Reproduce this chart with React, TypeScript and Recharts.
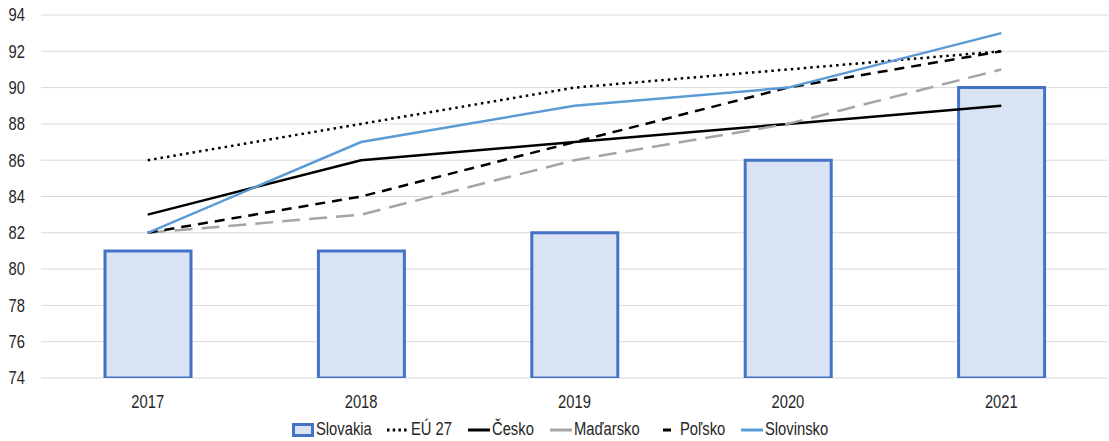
import React from 'react';
import { ComposedChart, Bar, Line, XAxis, YAxis, CartesianGrid, Legend } from 'recharts';

const years = ['2017', '2018', '2019', '2020', '2021'];
const slovakia = [81, 81, 82, 86, 90];
const eu27 = [86, 88, 90, 91, 92];
const cesko = [83, 86, 87, 88, 89];
const madarsko = [82, 83, 86, 88, 91];
const polsko = [82, 84, 87, 90, 92];
const slovinsko = [82, 87, 89, 90, 93];
const yTicks = [74, 76, 78, 80, 82, 84, 86, 88, 90, 92, 94];

const chartData = years.map((year, i) => ({
  year,
  slovakia: slovakia[i],
  eu27: eu27[i],
  cesko: cesko[i],
  madarsko: madarsko[i],
  polsko: polsko[i],
  slovinsko: slovinsko[i],
}));

// no narrow font installed, so squeeze Liberation Sans to look like Arial Narrow
const FONT = '"Liberation Sans", Arial, sans-serif';
const FONT_SIZE = 18;
const SQUEEZE = 0.82;
const TEXT = '#262626';

let canvas: HTMLCanvasElement | null = null;
const measure = (s: string) => {
  if (!canvas) canvas = document.createElement('canvas');
  const ctx = canvas.getContext('2d');
  if (!ctx) return s.length * FONT_SIZE * 0.5;
  ctx.font = `${FONT_SIZE}px ${FONT}`;
  return ctx.measureText(s).width;
};

const NarrowTick = (props: any) => {
  const { x, y, payload, textAnchor, dy } = props;
  return (
    <text
      transform={`translate(${x} ${y}) scale(${SQUEEZE} 1)`}
      x={0}
      y={0}
      dy={dy}
      textAnchor={textAnchor}
      fill={TEXT}
      fontSize={FONT_SIZE}
      fontFamily={FONT}
    >
      {payload.value}
    </text>
  );
};

const XTick = (props: any) => <NarrowTick {...props} textAnchor="middle" dy="0.71em" />;
const YTick = (props: any) => <NarrowTick {...props} textAnchor="end" dy="0.355em" />;

type LegendItem = { label: string; kind: 'bar' | 'line'; color: string; dash?: string };

const legendItems: LegendItem[] = [
  { label: 'Slovakia', kind: 'bar', color: '#4472c4' },
  { label: 'EÚ 27', kind: 'line', color: '#000', dash: '2.5 3.2' },
  { label: 'Česko', kind: 'line', color: '#000' },
  { label: 'Maďarsko', kind: 'line', color: '#a5a5a5' },
  { label: 'Poľsko', kind: 'line', color: '#000', dash: '0 7 8 20' },
  { label: 'Slovinsko', kind: 'line', color: '#5b9bd5' },
];

const renderLegend = () => (
  <div
    style={{
      display: 'flex',
      justifyContent: 'center',
      alignItems: 'center',
      paddingLeft: 12,
      paddingTop: 7,
      height: 23,
      fontFamily: FONT,
      fontSize: FONT_SIZE,
      color: TEXT,
    }}
  >
    {legendItems.map((it, i) => (
      <div key={it.label} style={{ display: 'flex', alignItems: 'center', marginLeft: i === 0 ? 0 : 16 }}>
        <svg width={22} height={14} style={{ marginRight: 2 }}>
          {it.kind === 'bar' ? (
            <rect x={1.5} y={1.5} width={19} height={11} fill="#dae3f3" stroke={it.color} strokeWidth={3} />
          ) : (
            <line x1={0} y1={7} x2={22} y2={7} stroke={it.color} strokeWidth={3} strokeDasharray={it.dash} />
          )}
        </svg>
        <span style={{ display: 'inline-block', width: measure(it.label) * SQUEEZE, whiteSpace: 'nowrap' }}>
          <span style={{ display: 'inline-block', transform: `scaleX(${SQUEEZE})`, transformOrigin: 'left center' }}>
            {it.label}
          </span>
        </span>
      </div>
    ))}
  </div>
);

export default function App() {
  return (
    <div style={{ position: 'absolute', left: 0, top: 0 }}>
      <ComposedChart width={1109} height={441} data={chartData} margin={{ top: 15, right: 1, left: 0, bottom: 0 }}>
        <CartesianGrid vertical={false} stroke="#d9d9d9" strokeWidth={1} />
        <XAxis dataKey="year" axisLine={false} tickLine={false} tickSize={0} tickMargin={17} height={33} tick={XTick} />
        <YAxis
          domain={[74, 94]}
          ticks={yTicks}
          allowDataOverflow
          axisLine={false}
          tickLine={false}
          tickSize={0}
          tickMargin={16}
          width={41}
          tick={YTick}
        />
        <Legend verticalAlign="bottom" height={30} content={renderLegend} />
        <Bar dataKey="slovakia" name="Slovakia" barSize={86} fill="#dae3f3" stroke="#4472c4" strokeWidth={3} isAnimationActive={false} />
        <Line dataKey="eu27" name="EÚ 27" stroke="#000" strokeWidth={2.5} strokeDasharray="2.5 4" dot={false} isAnimationActive={false} />
        <Line dataKey="cesko" name="Česko" stroke="#000" strokeWidth={2.5} dot={false} isAnimationActive={false} />
        <Line dataKey="madarsko" name="Maďarsko" stroke="#a5a5a5" strokeWidth={2.5} strokeDasharray="18 9" dot={false} isAnimationActive={false} />
        <Line dataKey="polsko" name="Poľsko" stroke="#000" strokeWidth={2.5} strokeDasharray="10 7" dot={false} isAnimationActive={false} />
        <Line dataKey="slovinsko" name="Slovinsko" stroke="#5b9bd5" strokeWidth={2.5} dot={false} isAnimationActive={false} />
      </ComposedChart>
    </div>
  );
}
